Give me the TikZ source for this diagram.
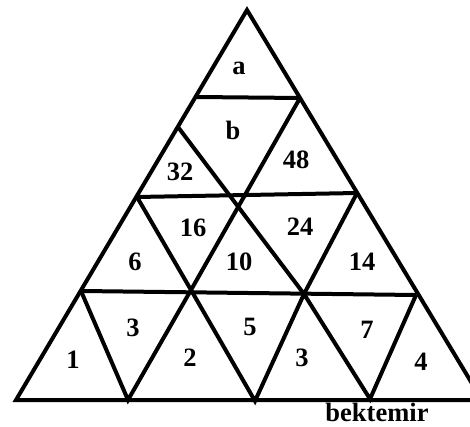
\documentclass[tikz,border=0pt]{standalone}
\usepackage{fontspec}
\setmainfont{Liberation Serif}
\begin{document}
\begin{tikzpicture}[x=1pt,y=-1pt,
  edge/.style={line width=4pt,line join=miter},
  lab/.style={font=\bfseries\fontsize{26.5}{26.5}\selectfont,inner sep=0pt}]
\useasboundingbox (0,0) rectangle (470,427);
\clip (0,0) rectangle (470,427);
% vertices
\coordinate (A) at (247,10);
\coordinate (L1) at (196,97);
\coordinate (R1) at (300,98);
\coordinate (P) at (178,127);
\coordinate (L2) at (137,197);
\coordinate (R2) at (357,193);
\coordinate (Q) at (81,291);
\coordinate (M) at (191,290);
\coordinate (N) at (304,294);
\coordinate (S) at (416,295);
\coordinate (B0) at (16,400);
\coordinate (B1) at (128,400);
\coordinate (B2) at (255,401);
\coordinate (B3) at (370,399);
\coordinate (BR) at (482,400);
% outer triangle
\draw[edge] (B0) -- (A) -- (BR) -- cycle;
% inner lines
\draw[edge] (L1) -- (R1);
\draw[edge] (L2) -- (R2);
\draw[edge] (Q) -- (S);
\draw[edge] (P) -- (N);
\draw[edge] (R1) -- (M);
\draw[edge] (L2) -- (M);
\draw[edge] (R2) -- (N);
\draw[edge] (Q) -- (B1) -- (M) -- (B2) -- (N) -- (B3) -- (S);
% labels
\node[lab] (ta) at (239,68) {a};
\node[lab] (tb) at (233,130) {b};
\node[lab] (t32) at (180,172) {32};
\node[lab] (t48) at (296,160) {48};
\node[lab] (t16) at (193,228) {16};
\node[lab] (t24) at (300,227) {24};
\node[lab] (t6) at (135,262) {6};
\node[lab] (t10) at (239,262) {10};
\node[lab] (t14) at (362,262) {14};
\node[lab] (t3a) at (133,328) {3};
\node[lab] (t5) at (250,327) {5};
\node[lab] (t7) at (367,330) {7};
\node[lab] (t1) at (73,360) {1};
\node[lab] (t2) at (190,358) {2};
\node[lab] (t3b) at (302,358) {3};
\node[lab] (t4) at (421,362) {4};
\node[lab,anchor=base] (sig) at (377,421) {bektemir};
\end{tikzpicture}
\end{document}
